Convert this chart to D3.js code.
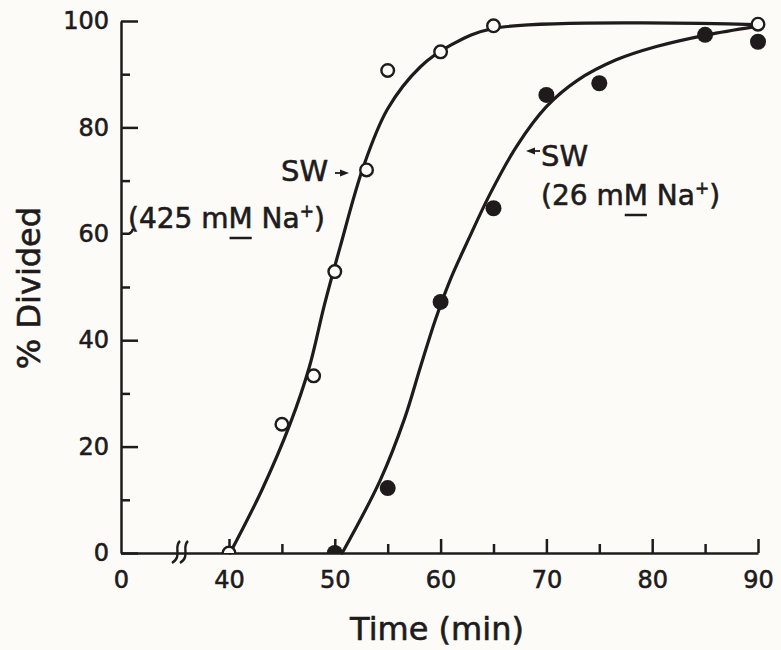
<!DOCTYPE html>
<html>
<head>
<meta charset="utf-8">
<script src="https://cdn.jsdelivr.net/npm/d3@7"></script>
<style>
  html, body { margin: 0; padding: 0; background: #fcfbf8; }
  svg { display: block; }
</style>
</head>
<body>
<svg id="chart" width="781" height="650"></svg>
<script>
// ---------------- data ----------------
const xMajorTicks = [40, 50, 60, 70, 80, 90];
const xMinorTicks = [45, 55, 65, 75, 85];
const xTickLabels = [0, 40, 50, 60, 70, 80, 90];
const yMajorTicks = [0, 20, 40, 80, 100];   // 60 is drawn as the bracket hook
const yMinorTicks = [10, 30, 50, 70, 90];
const yTickLabels = [0, 20, 40, 60, 80, 100];

// 425 mM Na+ (open circles)
const pointsHigh = [[40, 0], [45, 24.2], [48, 33.3], [50, 52.9], [53, 72.0], [55, 90.7], [60, 94.2], [65, 99.1], [90, 99.4]];
const curveHigh = [[40.1, 0], [43.1, 11.8], [45.8, 24.4], [47.6, 35.0], [49.0, 46.5], [50.5, 57.5],
  [52.7, 72.6], [55.0, 83.5], [58.1, 91.4], [61.0, 95.5], [65.0, 98.6], [89.7, 99.3]];

// 26 mM Na+ (filled circles)
const pointsLow = [[50, 0], [55, 12.2], [60, 47.2], [65, 64.8], [70, 86.1], [75, 88.3], [85, 97.4], [90, 96.1]];
const curveLow = [[50.7, 0], [54.3, 13.7], [56.6, 25.3], [58.1, 35.0], [59.5, 43.8], [60.9, 51.3],
  [62.6, 58.8], [64.7, 67.6], [67.2, 76.5], [70.0, 83.9], [72.9, 88.8], [76.6, 92.7], [80.4, 95.2],
  [85.2, 97.4], [89.6, 98.9]];

const xLabel = "Time (min)";
const yLabel = "% Divided";

// ---------------- drawing ----------------
const INK = "#1f1b1c";
const BG = "#fcfbf8";
const FONT = "'DejaVu Sans', 'Liberation Sans', sans-serif";
const TEXT_STROKE = 0.6;

const svg = d3.select("#chart");
svg.append("rect").attr("width", 781).attr("height", 650).attr("fill", BG);

const x = d3.scaleLinear().domain([0, 40, 90]).range([121, 229, 758]);
const y = d3.scaleLinear().domain([0, 100]).range([553, 21]);

const x0 = x(0), y0 = y(0);

// clip marks to above the x axis
svg.append("clipPath").attr("id", "plotclip")
  .append("rect").attr("x", 0).attr("y", 0).attr("width", 781).attr("height", y0);

function styleAxis(g) {
  g.attr("font-family", FONT).attr("font-size", 24);
  g.selectAll("path.domain").attr("stroke", INK).attr("stroke-width", 2.5);
  g.selectAll(".tick line").attr("stroke", INK).attr("stroke-width", 2.5);
  g.selectAll(".tick text").attr("fill", INK).attr("stroke", INK).attr("stroke-width", TEXT_STROKE);
}

// Y axis: major ticks (inward), minor ticks, labels
svg.append("g").attr("transform", `translate(${x0},0)`)
  .call(d3.axisRight(y).tickValues(yMajorTicks).tickSize(17).tickSizeOuter(0).tickFormat(""))
  .call(styleAxis);
svg.append("g").attr("transform", `translate(${x0},0)`)
  .call(d3.axisRight(y).tickValues(yMinorTicks).tickSize(9).tickFormat(""))
  .call(g => g.select("path.domain").remove())
  .call(styleAxis);
svg.append("g").attr("transform", `translate(${x0},0)`)
  .call(d3.axisLeft(y).tickValues(yTickLabels).tickSize(0).tickPadding(12).tickFormat(d3.format("d")))
  .call(g => g.select("path.domain").remove())
  .call(styleAxis);

// X axis
svg.append("g").attr("transform", `translate(0,${y0})`)
  .call(d3.axisTop(x).tickValues(xMajorTicks).tickSize(14).tickSizeOuter(0).tickFormat(""))
  .call(styleAxis);
svg.append("g").attr("transform", `translate(0,${y0})`)
  .call(d3.axisTop(x).tickValues(xMinorTicks).tickSize(9).tickFormat(""))
  .call(g => g.select("path.domain").remove())
  .call(styleAxis);
svg.append("g").attr("transform", `translate(0,${y0})`)
  .call(d3.axisBottom(x).tickValues(xTickLabels).tickSize(0).tickPadding(18).tickFormat(d3.format("d")))
  .call(g => g.select("path.domain").remove())
  .call(styleAxis);

// axis break marks between 0 and 40
const breakX = [x(0) + 55, x(0) + 63];
breakX.forEach(bx => {
  svg.append("path")
    .attr("d", `M${bx + 4},${y0 - 12} C${bx - 3},${y0 - 6} ${bx + 7},${y0 + 3} ${bx - 4},${y0 + 10}`)
    .attr("fill", "none").attr("stroke", INK).attr("stroke-width", 2.4);
});

// bracket hook at 60 joining the label
svg.append("path")
  .attr("d", `M${x0},${y(60)} L${x0 + 8},${y(60)} Q${x0 + 11},${y(60) - 1} ${x0 + 12},${y(60) - 5}`)
  .attr("fill", "none").attr("stroke", INK).attr("stroke-width", 2.5);

// curves
const line = d3.line().x(d => x(d[0])).y(d => y(d[1])).curve(d3.curveCatmullRom.alpha(0.5));
[curveHigh, curveLow].forEach(c => {
  svg.append("path").datum(c).attr("d", line)
    .attr("fill", "none").attr("stroke", INK).attr("stroke-width", 3.2).attr("stroke-linecap", "round");
});

// points
const marks = svg.append("g").attr("clip-path", "url(#plotclip)");
marks.selectAll("circle.open").data(pointsHigh).join("circle")
  .attr("class", "open")
  .attr("cx", d => x(d[0])).attr("cy", d => y(d[1])).attr("r", 6.3)
  .attr("fill", BG).attr("stroke", INK).attr("stroke-width", 2.4);
marks.selectAll("circle.filled").data(pointsLow).join("circle")
  .attr("class", "filled")
  .attr("cx", d => x(d[0])).attr("cy", d => y(d[1])).attr("r", 8)
  .attr("fill", INK);

// axis titles
svg.append("text")
  .attr("x", 437).attr("y", 640)
  .attr("text-anchor", "middle")
  .attr("font-family", FONT).attr("font-size", 32).attr("fill", INK)
  .attr("stroke", INK).attr("stroke-width", TEXT_STROKE)
  .text(xLabel);
svg.append("text")
  .attr("transform", "translate(40,288) rotate(-90)")
  .attr("text-anchor", "middle")
  .attr("font-family", FONT).attr("font-size", 32).attr("fill", INK)
  .attr("stroke", INK).attr("stroke-width", TEXT_STROKE)
  .text(yLabel);

// annotations
function annotation(sx, sy, cx, cy, num, mIndex) {
  svg.append("text").attr("x", sx).attr("y", sy)
    .attr("font-family", FONT).attr("font-size", 29).attr("fill", INK)
    .attr("stroke", INK).attr("stroke-width", TEXT_STROKE)
    .text("SW");
  const t = svg.append("text").attr("x", cx).attr("y", cy)
    .attr("font-family", FONT).attr("font-size", 28).attr("fill", INK)
    .attr("stroke", INK).attr("stroke-width", TEXT_STROKE);
  t.append("tspan").text(`(${num} m`);
  t.append("tspan").text("M");
  t.append("tspan").text(" Na");
  t.append("tspan").attr("font-size", 17).attr("dy", -11).text("+");
  t.append("tspan").attr("dy", 11).text(")");
  const node = t.node();
  const s = node.getStartPositionOfChar(mIndex).x;
  const e = node.getEndPositionOfChar(mIndex).x;
  svg.append("line").attr("x1", s + 1).attr("x2", e - 1)
    .attr("y1", cy + 10).attr("y2", cy + 10)
    .attr("stroke", INK).attr("stroke-width", 2.5);
}
annotation(281, 181, 128, 228, "425", 6);
annotation(541, 166, 541, 205, "26", 5);

// arrows
svg.append("line").attr("x1", 335).attr("x2", 342).attr("y1", 173).attr("y2", 173)
  .attr("stroke", INK).attr("stroke-width", 1.8);
svg.append("path").attr("d", "M340,169.5 L349,173 L340,176.5 Z").attr("fill", INK);
svg.append("line").attr("x1", 533).attr("x2", 540).attr("y1", 151).attr("y2", 151)
  .attr("stroke", INK).attr("stroke-width", 1.8);
svg.append("path").attr("d", "M526,151 L535,147.5 L535,154.5 Z").attr("fill", INK);
</script>
</body>
</html>
